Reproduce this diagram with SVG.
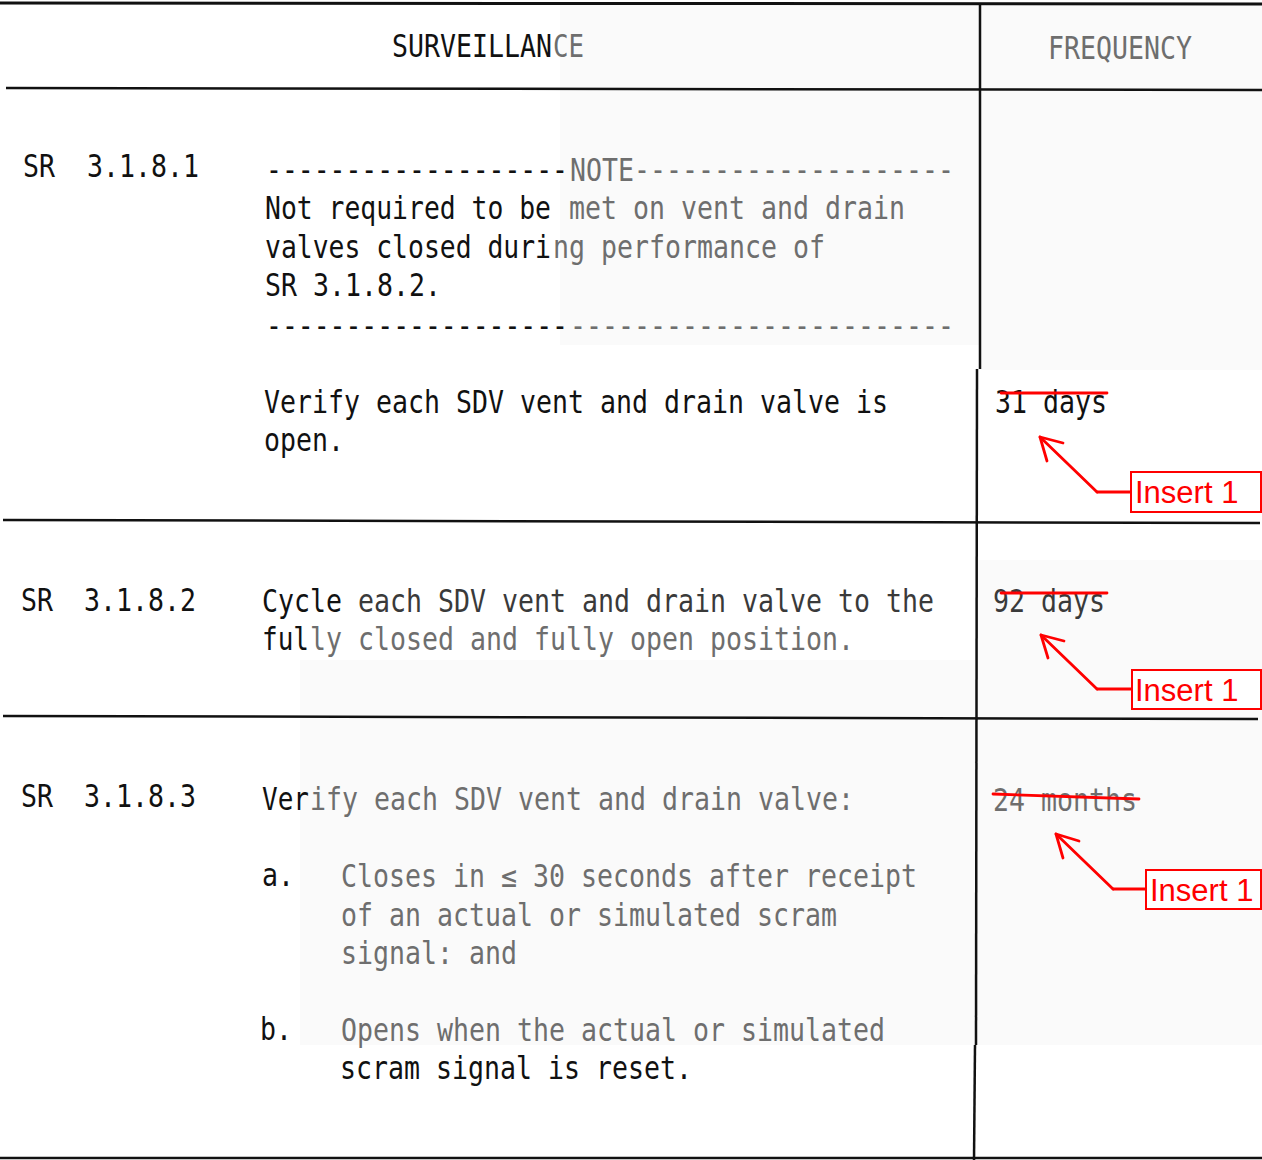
<svg xmlns="http://www.w3.org/2000/svg" width="1262" height="1160" viewBox="0 0 1262 1160">
  <style>
    .t { font-family: "DejaVu Sans Mono", "Liberation Mono", monospace; font-size: 32px; fill: #111; }
    .g { fill: #6e6e6e; }
    .m { fill: #3a3a3a; }
    .rule { stroke: #111; stroke-width: 2.5; fill: none; }
    .red { stroke: #f00; stroke-width: 2.8; fill: none; stroke-linecap: round; stroke-linejoin: round; }
    .box { stroke: #f00; stroke-width: 2; fill: #fff; }
    .ins { font-family: "Liberation Sans", Arial, sans-serif; font-size: 31px; fill: #f00; }
    .haze { fill: #fafafa; }
  </style>

  <rect width="1262" height="1160" fill="#fff"/>

  <!-- faint paper tone patches -->
  <g id="paper">
    <rect class="haze" x="560" y="5" width="702" height="340"/>
    <rect class="haze" x="980" y="90" width="282" height="280"/>
    <rect class="haze" x="300" y="660" width="675" height="385"/>
    <rect class="haze" x="977" y="560" width="285" height="485"/>
  </g>

  <!-- table rules -->
  <g id="rules">
    <line class="rule" x1="0" y1="3" x2="1262" y2="4" style="stroke-width:3"/>
    <line class="rule" x1="6" y1="88" x2="1262" y2="90"/>
    <line class="rule" x1="3" y1="520" x2="1260" y2="523"/>
    <line class="rule" x1="3" y1="716" x2="1258" y2="719"/>
    <line class="rule" x1="0" y1="1158" x2="1262" y2="1158"/>
    <line class="rule" x1="980" y1="3" x2="980" y2="369"/>
    <line class="rule" x1="977" y1="369" x2="976" y2="1045"/>
    <line class="rule" x1="975" y1="1045" x2="974" y2="1160"/>
  </g>

  <!-- header -->
  <g id="header">
    <text class="t" x="392" y="57" textLength="160" lengthAdjust="spacingAndGlyphs">SURVEILLAN</text>
    <text class="t g" x="553" y="57" textLength="31" lengthAdjust="spacingAndGlyphs">CE</text>
    <text class="t g" x="1048" y="59" textLength="144" lengthAdjust="spacingAndGlyphs">FREQUENCY</text>
  </g>

  <!-- SR 3.1.8.1 -->
  <g id="sr-3-1-8-1">
    <text class="t" x="23" y="177" textLength="32" lengthAdjust="spacingAndGlyphs">SR</text>
    <text class="t" x="87" y="177" textLength="112" lengthAdjust="spacingAndGlyphs">3.1.8.1</text>
    <text class="t" x="266" y="181" textLength="302" lengthAdjust="spacingAndGlyphs">-------------------</text>
    <text class="t g" x="570" y="181" textLength="384" lengthAdjust="spacingAndGlyphs">NOTE--------------------</text>
    <text class="t" x="265" y="219" textLength="286" lengthAdjust="spacingAndGlyphs">Not required to be</text>
    <text class="t g" x="569" y="219" textLength="336" lengthAdjust="spacingAndGlyphs">met on vent and drain</text>
    <text class="t" x="265" y="258" textLength="286" lengthAdjust="spacingAndGlyphs">valves closed duri</text>
    <text class="t g" x="553" y="258" textLength="272" lengthAdjust="spacingAndGlyphs">ng performance of</text>
    <text class="t" x="265" y="296" textLength="176" lengthAdjust="spacingAndGlyphs">SR 3.1.8.2.</text>
    <text class="t" x="266" y="337" textLength="302" lengthAdjust="spacingAndGlyphs">-------------------</text>
    <text class="t g" x="570" y="337" textLength="384" lengthAdjust="spacingAndGlyphs">------------------------</text>
    <text class="t" x="264" y="413" textLength="624" lengthAdjust="spacingAndGlyphs">Verify each SDV vent and drain valve is</text>
    <text class="t" x="264" y="451" textLength="80" lengthAdjust="spacingAndGlyphs">open.</text>
    <text class="t" x="995" y="413" textLength="112" lengthAdjust="spacingAndGlyphs">31 days</text>
  </g>

  <!-- SR 3.1.8.2 -->
  <g id="sr-3-1-8-2">
    <text class="t" x="21" y="611" textLength="32" lengthAdjust="spacingAndGlyphs">SR</text>
    <text class="t" x="84" y="611" textLength="112" lengthAdjust="spacingAndGlyphs">3.1.8.2</text>
    <text class="t" x="262" y="612" textLength="80" lengthAdjust="spacingAndGlyphs">Cycle</text>
    <text class="t m" x="358" y="612" textLength="576" lengthAdjust="spacingAndGlyphs">each SDV vent and drain valve to the</text>
    <text class="t" x="262" y="650" textLength="47" lengthAdjust="spacingAndGlyphs">ful</text>
    <text class="t g" x="310" y="650" textLength="544" lengthAdjust="spacingAndGlyphs">ly closed and fully open position.</text>
    <text class="t m" x="993" y="612" textLength="112" lengthAdjust="spacingAndGlyphs">92 days</text>
  </g>

  <!-- SR 3.1.8.3 -->
  <g id="sr-3-1-8-3">
    <text class="t" x="21" y="807" textLength="32" lengthAdjust="spacingAndGlyphs">SR</text>
    <text class="t" x="84" y="807" textLength="112" lengthAdjust="spacingAndGlyphs">3.1.8.3</text>
    <text class="t" x="262" y="810" textLength="47" lengthAdjust="spacingAndGlyphs">Ver</text>
    <text class="t g" x="310" y="810" textLength="544" lengthAdjust="spacingAndGlyphs">ify each SDV vent and drain valve:</text>
    <text class="t" x="262" y="886" textLength="32" lengthAdjust="spacingAndGlyphs">a.</text>
    <text class="t g" x="341" y="887" textLength="576" lengthAdjust="spacingAndGlyphs">Closes in ≤ 30 seconds after receipt</text>
    <text class="t g" x="341" y="926" textLength="496" lengthAdjust="spacingAndGlyphs">of an actual or simulated scram</text>
    <text class="t g" x="341" y="964" textLength="176" lengthAdjust="spacingAndGlyphs">signal: and</text>
    <text class="t" x="260" y="1040" textLength="32" lengthAdjust="spacingAndGlyphs">b.</text>
    <text class="t g" x="341" y="1041" textLength="544" lengthAdjust="spacingAndGlyphs">Opens when the actual or simulated</text>
    <text class="t" x="340" y="1079" textLength="352" lengthAdjust="spacingAndGlyphs">scram signal is reset.</text>
    <text class="t g" x="993" y="811" textLength="144" lengthAdjust="spacingAndGlyphs">24 months</text>
  </g>

  <!-- red markup: strike-outs, leader arrows and insert tags -->
  <g id="connectors">
    <line class="red" x1="1001" y1="393" x2="1107" y2="393"/>
    <polyline class="red" points="1097,492 1040,437"/>
    <polyline class="red" points="1063,443 1040,437 1047,461"/>
    <line class="red" x1="1097" y1="492" x2="1131" y2="492"/>

    <line class="red" x1="1001" y1="593" x2="1107" y2="593"/>
    <polyline class="red" points="1097,689 1041,635"/>
    <polyline class="red" points="1064,641 1041,635 1048,658"/>
    <line class="red" x1="1097" y1="689" x2="1132" y2="689"/>

    <line class="red" x1="993" y1="794" x2="1139" y2="799"/>
    <polyline class="red" points="1113,889 1056,834"/>
    <polyline class="red" points="1079,841 1056,834 1063,858"/>
    <line class="red" x1="1113" y1="889" x2="1146" y2="889"/>
  </g>

  <g id="insert-1a">
    <rect class="box" x="1131" y="472" width="130" height="40"/>
    <text class="ins" x="1135" y="503">Insert 1</text>
  </g>
  <g id="insert-1b">
    <rect class="box" x="1132" y="670" width="129" height="39"/>
    <text class="ins" x="1135" y="701">Insert 1</text>
  </g>
  <g id="insert-1c">
    <rect class="box" x="1146" y="870" width="115" height="39"/>
    <text class="ins" x="1150" y="901">Insert 1</text>
  </g>
</svg>
